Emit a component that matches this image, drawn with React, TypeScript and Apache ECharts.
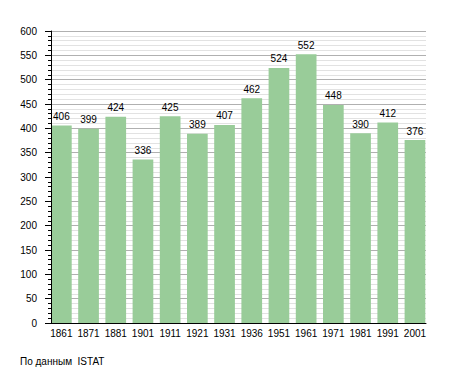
import React, { useEffect, useRef } from "react";
import * as echarts from "echarts";

const years = ["1861", "1871", "1881", "1901", "1911", "1921", "1931", "1936", "1951", "1961", "1971", "1981", "1991", "2001"];
const population = [406, 399, 424, 336, 425, 389, 407, 462, 524, 552, 448, 390, 412, 376];
const yMin = 0;
const yMax = 600;
const yInterval = 50;
const sourceNote = "По данным  ISTAT";

export default function App() {
  const ref = useRef<HTMLDivElement>(null);
  useEffect(() => {
    if (!ref.current) return;
    const chart = echarts.init(ref.current, undefined, { renderer: "svg" });
    const font = "'Liberation Sans', Arial, sans-serif";
    const plotLeft = 51;
    const plotTop = 31;
    const plotW = 375;
    const plotH = 292;
    const pitch = 27.2;
    const barW = 20.7;
    const barsW = pitch * years.length;
    const barsLeft = plotLeft - (pitch - barW) / 2;
    chart.setOption({
      animation: false,
      backgroundColor: "#ffffff",
      textStyle: { fontFamily: font },
      grid: [
        { left: plotLeft, top: plotTop, width: plotW, height: plotH },
        { left: barsLeft, top: plotTop, width: barsW, height: plotH },
        { left: plotLeft, top: plotTop, width: plotW, height: plotH },
      ],
      xAxis: [
        {
          type: "category",
          gridIndex: 0,
          data: years,
          axisLine: { show: false },
          axisTick: { show: false },
          axisLabel: { show: false },
          splitLine: { show: false },
        },
        {
          type: "category",
          gridIndex: 1,
          data: years,
          axisLine: { show: false },
          axisTick: { show: false },
          axisLabel: { show: true, color: "#000", fontSize: 10, fontFamily: font, margin: 5, interval: 0 },
          splitLine: { show: false },
        },
        {
          type: "category",
          gridIndex: 2,
          data: years,
          position: "bottom",
          z: 5,
          axisLine: { show: true, lineStyle: { color: "#000", width: 1 } },
          axisTick: { show: false },
          axisLabel: { show: false },
          splitLine: { show: false },
        },
      ],
      yAxis: [
        {
          type: "value",
          gridIndex: 0,
          min: yMin,
          max: yMax,
          interval: yInterval,
          z: 0,
          axisLine: { show: false },
          axisTick: { show: false },
          axisLabel: { show: false },
          splitLine: { show: true, lineStyle: { color: "#b0b0b0", width: 1 } },
          minorTick: { show: false, splitNumber: 5 },
          minorSplitLine: { show: true, lineStyle: { color: "#e2e2e2", width: 1 } },
        },
        {
          type: "value",
          gridIndex: 1,
          min: yMin,
          max: yMax,
          show: false,
          splitLine: { show: false },
        },
        {
          type: "value",
          gridIndex: 2,
          position: "left",
          min: yMin,
          max: yMax,
          interval: yInterval,
          z: 5,
          axisLine: { show: true, lineStyle: { color: "#000", width: 1 } },
          axisTick: { show: true, length: 6, lineStyle: { color: "#000" } },
          minorTick: { show: true, splitNumber: 5, length: 3, lineStyle: { color: "#000" } },
          axisLabel: { color: "#000", fontSize: 10, fontFamily: font, margin: 14 },
          splitLine: { show: false },
          minorSplitLine: { show: false },
        },
      ],
      graphic: [
        {
          type: "text",
          left: 20,
          top: 356,
          style: { text: sourceNote, fontSize: 10, fontFamily: font, fill: "#000" },
        },
      ],
      series: [
        {
          type: "bar",
          xAxisIndex: 1,
          yAxisIndex: 1,
          data: population,
          barWidth: barW,
          itemStyle: { color: "#99cc99" },
          label: { show: true, position: "top", distance: 4, color: "#000", fontSize: 10, fontFamily: font },
        },
      ],
    });
    return () => chart.dispose();
  }, []);
  return <div ref={ref} style={{ position: "fixed", left: 0, top: 0, width: 455, height: 373 }} />;
}
